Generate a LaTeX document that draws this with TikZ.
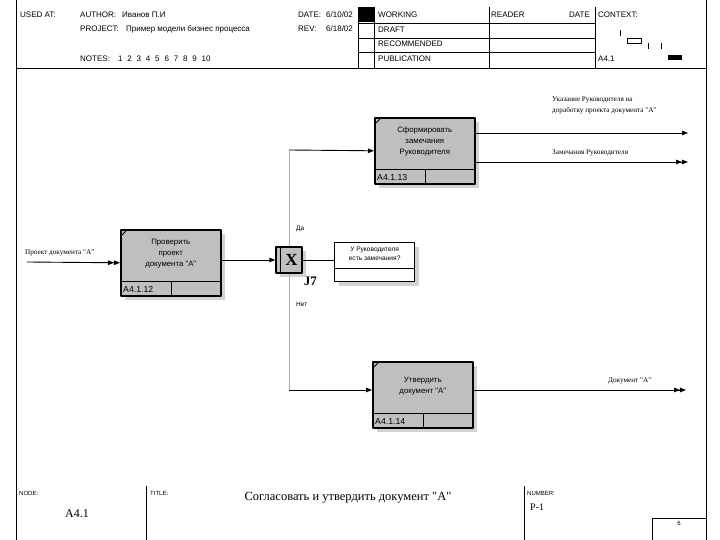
\documentclass[tikz,border=0pt]{standalone}
\usepackage{fontspec}
\setmainfont{Liberation Serif}[Ligatures=TeXOff]
\setsansfont{Liberation Sans}[Ligatures=TeXOff]
\usetikzlibrary{positioning,arrows.meta,shadows}

\begin{document}
\begin{tikzpicture}[x=1pt, y=1pt, font=\sffamily\fontsize{8}{9}\selectfont, line join=round, >={Triangle[length=6pt,width=4.5pt]},
	frame/.style={line width=0.8pt},
	flow/.style={line width=0.9pt},
	boxshadow/.style={drop shadow={shadow xshift=4pt, shadow yshift=-4pt, fill=gray!35, opacity=1}},
	actbox/.style={draw, line width=1.6pt, fill=gray!50, minimum width=100pt, minimum height=66pt, inner sep=0pt, anchor=north west, boxshadow},
	boxtext/.style={align=center, font=\sffamily\fontsize{7.8}{11}\selectfont},
	idtext/.style={anchor=west, inner sep=0pt, font=\sffamily\fontsize{8.7}{9}\selectfont},
	arrowtext/.style={anchor=base west, align=left, inner sep=0pt, font=\fontsize{7.2}{11}\selectfont},
	hdr/.style={anchor=base west, inner sep=0pt}]
	\useasboundingbox (0,0) rectangle (720,540);
	\draw[frame] (16,540) -- (16,0);
	\draw[frame] (706,540) -- (706,0);
	\draw[frame] (16,472) -- (706,472);
	\draw[frame] (358,533) -- (358,472);
	\draw[frame] (374,533) -- (374,472);
	\fill (358,518) rectangle (374,533);
	\draw[frame] (358,517) -- (595,517);
	\draw[frame] (358,502) -- (595,502);
	\draw[frame] (358,488) -- (595,488);
	\draw[frame] (489,533) -- (489,472);
	\draw[frame] (595,533) -- (595,472);
	\node[hdr] at (20,522) {USED AT:};
	\node[hdr] at (80,522) {AUTHOR:};
	\node[hdr] at (122,522) {Иванов П.И};
	\node[hdr] at (80,508) {PROJECT:};
	\node[hdr] at (126,508) {Пример модели бизнес процесса};
	\node[hdr] at (80,478) {NOTES:};
	\foreach \n in {1,...,10}
		\node[hdr] at (108.5+9.3*\n,478) {\n};
	\node[hdr] at (298,522) {DATE:};
	\node[hdr] at (326,522) {6/10/02};
	\node[hdr] at (298,508) {REV:};
	\node[hdr] at (326,508) {6/18/02};
	\node[hdr] at (378,522) {WORKING};
	\node[hdr] at (378,507) {DRAFT};
	\node[hdr] at (378,493) {RECOMMENDED};
	\node[hdr] at (378,478) {PUBLICATION};
	\node[hdr] at (491,522) {READER};
	\node[hdr] at (569,522) {DATE};
	\node[hdr] at (598,522) {CONTEXT:};
	\node[hdr] at (598,478) {A4.1};
	\draw (620,510) -- (620,504);
	\draw[line width=0.6pt] (627,497) rectangle (641,502);
	\draw (648,497) -- (648,491);
	\draw (661,497) -- (661,491);
	\fill (668,480) rectangle (682,485);

	\node[actbox] (b12) at (120,311) {};
	\node[actbox] (b13) at (374,423) {};
	\node[actbox] (b14) at (372,179) {};
	\foreach \b/\id in {b12/A4.1.12, b13/A4.1.13, b14/A4.1.14} {
		\draw[line width=1pt] ([yshift=15pt]\b.south west) -- ([yshift=15pt]\b.south east);
		\draw[line width=1pt] ([xshift=51pt]\b.south west) -- ++(0,15);
		\draw[line width=0.8pt] ([xshift=2pt,yshift=-6pt]\b.north west) -- ([xshift=6pt,yshift=-2pt]\b.north west);
		\node[idtext] at ([xshift=3pt,yshift=7.5pt]\b.south west) {\id};
	}
	\node[boxtext] at ([yshift=-25pt]b12.north) {Проверить\\проект\\документа "А"};
	\node[boxtext] at ([yshift=-24pt]b13.north) {Сформировать\\замечания\\Руководителя};
	\node[boxtext] at ([yshift=-25pt]b14.north) {Утвердить\\документ "А"};

	\node[draw, line width=1.4pt, fill=gray!50, minimum size=26pt, inner sep=0pt, boxshadow] (j7) at (289,280) {};
	\draw[line width=0.8pt] ([xshift=5pt]j7.north west) -- ([xshift=5pt]j7.south west);
	\node[font=\rmfamily\bfseries\fontsize{17}{17}\selectfont] at ([xshift=2.5pt]j7.center) {X};
	\node[font=\rmfamily\bfseries\fontsize{13}{13}\selectfont, inner sep=0pt, below right=3pt and 1pt of j7.south east] {J7};

	\node[draw, line width=1.2pt, fill=white, minimum width=80pt, minimum height=39pt, inner sep=0pt, anchor=north west, boxshadow] (note) at (334,298) {};
	\draw[line width=0.8pt] ([yshift=14pt]note.south west) -- ([yshift=14pt]note.south east);
	\node[boxtext, font=\sffamily\fontsize{6.6}{9}\selectfont] at ([yshift=-12pt]note.north) {У Руководителя\\есть замечания?};

	\coordinate (in) at (27,278);
	\coordinate (yes) at (289,390);
	\coordinate (no) at (289,150);
	\coordinate (o1) at (688,407);
	\coordinate (o2) at (688,378);
	\coordinate (o3) at (686,150);
	\draw[flow,->>] (in) -- (b12.west);
	\draw[flow,->] (b12.east |- j7.west) -- (j7.west);
	\draw[flow] (j7.east) -- (j7.east -| note.west);
	\draw[gray!60, line width=0.6pt] (j7.north) -- (yes);
	\draw[gray!60, line width=0.6pt] (j7.south) -- (no);
	\draw[flow,->] (yes) -- (b13.west);
	\draw[flow,->] (no) -- (no -| b14.west);
	\draw[flow,->] (o1 -| b13.east) -- (o1);
	\draw[flow,->>] (o2 -| b13.east) -- (o2);
	\draw[flow,->>] (o3 -| b14.east) -- (o3);
	\node[arrowtext] at (25,285) {Проект документа "А"};
	\node[arrowtext] at (552,427) {Указание Руководителя на\\доработку проекта документа "А"};
	\node[arrowtext] at (552,385) {Замечания Руководителя};
	\node[arrowtext] at (608,157) {Документ "А"};
	\node[hdr, font=\sffamily\fontsize{6.5}{7}\selectfont] at (296,309) {Да};
	\node[hdr, font=\sffamily\fontsize{6.5}{7}\selectfont] at (296,233) {Нет};

	\draw[frame] (146,54) -- (146,0);
	\draw[frame] (524,54) -- (524,0);
	\draw[frame] (652,0) -- (652,22) -- (706,22);
	\node[hdr, font=\sffamily\fontsize{6}{6}\selectfont] at (19,44) {NODE:};
	\node[hdr, font=\rmfamily\fontsize{12}{12}\selectfont] at (65,22) {A4.1};
	\node[hdr, font=\sffamily\fontsize{6}{6}\selectfont] at (150,44) {TITLE:};
	\node[anchor=base, inner sep=0pt, font=\rmfamily\fontsize{12.5}{13}\selectfont] at (348,39) {Согласовать и утвердить документ "А"};
	\node[hdr, font=\sffamily\fontsize{6}{6}\selectfont] at (527,44) {NUMBER:};
	\node[hdr, font=\rmfamily\fontsize{10}{11}\selectfont] at (530,29) {Р-1};
	\node[anchor=base, inner sep=0pt, font=\sffamily\fontsize{6}{7}\selectfont] at (679,14) {6};
\end{tikzpicture}
\end{document}
